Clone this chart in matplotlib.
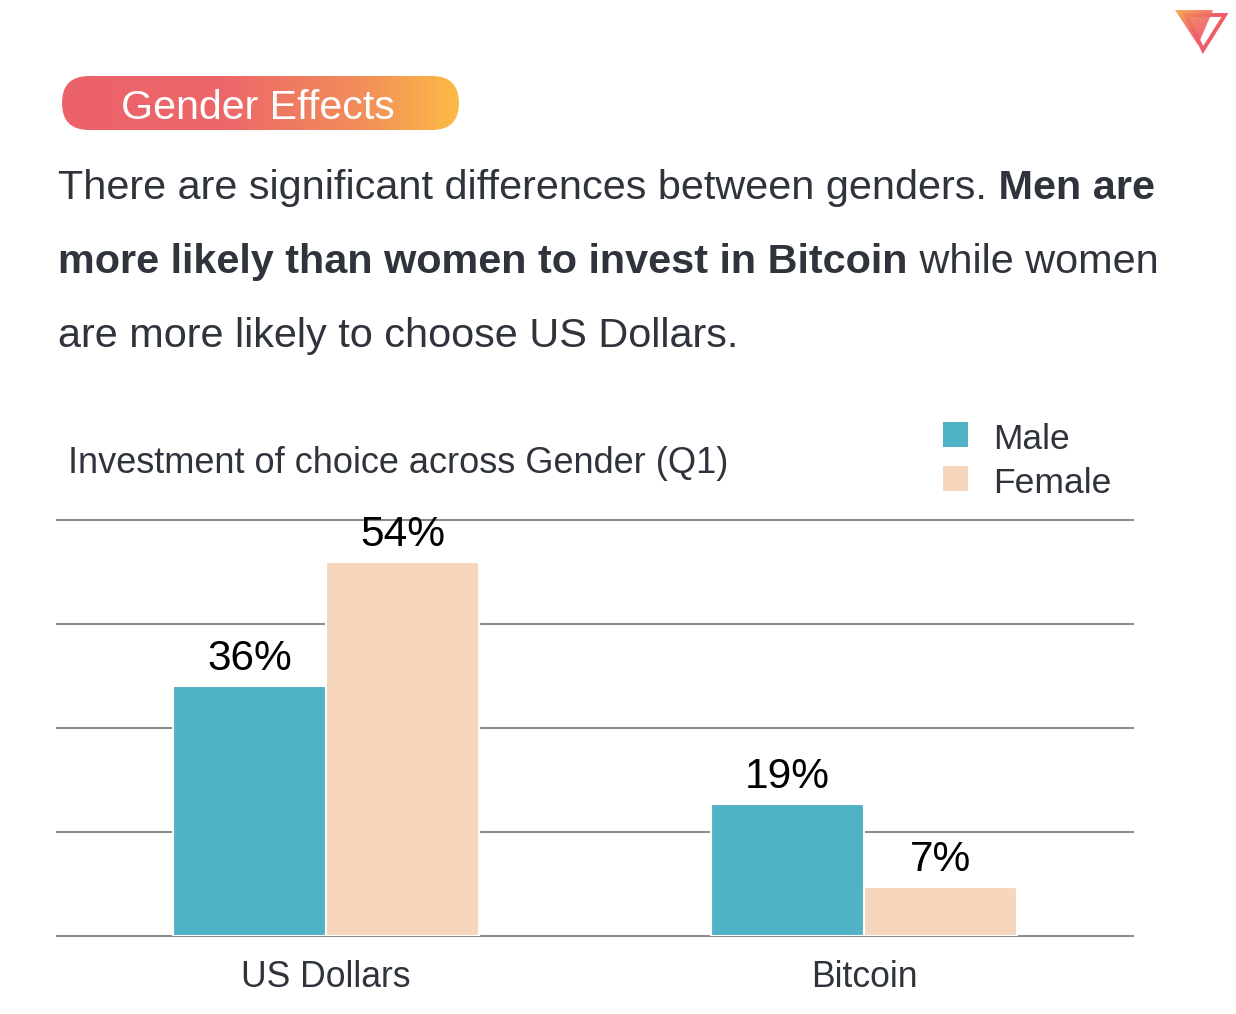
import matplotlib
matplotlib.use('Agg')
import matplotlib.pyplot as plt
import numpy as np
from matplotlib.patches import FancyBboxPatch, Polygon, Rectangle
from matplotlib.colors import LinearSegmentedColormap

# ---------------- data ----------------
categories = ['US Dollars', 'Bitcoin']
series_names = ['Male', 'Female']
male_values = [36, 19]
female_values = [54, 7]
grid_ticks = [0, 15, 30, 45, 60]
series_colors = ['#50b3c5', '#f6d6bd']

badge_text = 'Gender Effects'
chart_title = 'Investment of choice across Gender (Q1)'
paragraph = [
    [("There are significant differences between genders.", 'normal'), (" Men are", 'bold')],
    [("more likely than women to invest in Bitcoin", 'bold'), (" while women", 'normal')],
    [("are more likely to choose US Dollars.", 'normal')],
]

plt.rcParams['font.family'] = ['Liberation Sans', 'DejaVu Sans']
TEXT = '#2f333b'
W, H = 1236, 1014
fig = plt.figure(figsize=(W / 100, H / 100), dpi=100)
fig.patch.set_facecolor('white')

# background / overlay axes in pixel coordinates
bg = fig.add_axes([0, 0, 1, 1])
bg.set_xlim(0, W)
bg.set_ylim(H, 0)
bg.axis('off')

# ---- badge (pill with gradient) ----
pill = FancyBboxPatch((62, 76), 397, 54, boxstyle='round,pad=0,rounding_size=27',
                      facecolor='none', edgecolor='none')
bg.add_patch(pill)
cmap_pill = LinearSegmentedColormap.from_list('pill', [(0, '#eb6369'), (0.4, '#ec666a'),
                                                       (0.75, '#f28d5a'), (1, '#fcbb46')])
grad = np.linspace(0, 1, 256).reshape(1, -1)
im = bg.imshow(grad, extent=(62, 459, 130, 76), cmap=cmap_pill, aspect='auto', zorder=2)
im.set_clip_path(pill)
bg.text(258, 119, badge_text, fontsize=29.6, color='white', ha='center', va='baseline', zorder=3)

# ---- logo ----
triB_pts = [(1186, 15), (1225, 15), (1203, 50)]
bg.add_patch(Polygon(triB_pts, closed=True, facecolor='none', edgecolor='#ef5d68', lw=2.8, zorder=3,
                     joinstyle='miter'))
triA = Polygon([(1175, 10), (1213, 10), (1198, 45)], closed=True, facecolor='none', edgecolor='none')
bg.add_patch(triA)
cmap_logo = LinearSegmentedColormap.from_list('logo', ['#f6a24a', '#f07a5e', '#ee6169', '#ee5f6a'])
gx, gy = np.meshgrid(np.linspace(0, 1, 64), np.linspace(0, 1, 64))
g2 = np.clip(0.55 * gy + 0.45 * gx, 0, 1)
im2 = bg.imshow(g2, extent=(1175, 1213, 45, 10), cmap=cmap_logo, aspect='auto', zorder=4, alpha=0.92)
im2.set_clip_path(triA)

# ---- paragraph with mixed weights ----
PFS = 29.8
baselines = [199, 273, 347]
for parts, yb in zip(paragraph, baselines):
    prev = bg.text(58, yb, parts[0][0], fontsize=PFS, fontweight=parts[0][1], color=TEXT,
                   ha='left', va='baseline')
    for s, w in parts[1:]:
        prev = bg.annotate(s, xy=(1, 0), xycoords=prev, ha='left', va='bottom',
                           fontsize=PFS, fontweight=w, color=TEXT)

# ---- chart title ----
bg.text(68, 473, chart_title, fontsize=26, color=TEXT, ha='left', va='baseline')

# ---- legend ----
for i, (name, col) in enumerate(zip(series_names, series_colors)):
    y0 = 422 + i * 44
    bg.add_patch(Rectangle((943, y0), 25, 25, facecolor=col, edgecolor='none'))
    bg.text(993, y0 + 27, name, fontsize=25.5, color=TEXT, ha='left', va='baseline')

# ---- chart ----
ax = fig.add_axes([57 / W, (H - 936) / H, 1076 / W, 416 / H])
ax.set_xlim(-0.5, 1.5)
ax.set_ylim(grid_ticks[0], grid_ticks[-1])
x = np.arange(len(categories))
bw = 0.285
b1 = ax.bar(x - bw / 2, male_values, bw, color=series_colors[0], edgecolor='white', linewidth=1.5, zorder=3)
b2 = ax.bar(x + bw / 2, female_values, bw, color=series_colors[1], edgecolor='white', linewidth=1.5, zorder=3)
for cont, vals in ((b1, male_values), (b2, female_values)):
    for rect, v in zip(cont, vals):
        ax.annotate(f'{v}%', xy=(rect.get_x() + rect.get_width() / 2, v), xytext=(0, 11.5),
                    textcoords='offset points', ha='center', va='baseline', fontsize=30.5, color='black',
                    zorder=4)

ax.set_yticks(grid_ticks)
ax.yaxis.grid(True, color='#8c8c8c', linewidth=1.5, zorder=0)
for gl in ax.get_ygridlines():
    gl.set_clip_on(False)
ax.set_axisbelow(True)
ax.tick_params(axis='y', length=0, labelleft=False)
ax.set_xticks(x)
ax.set_xticklabels(categories, fontsize=25.6, color=TEXT)
ax.tick_params(axis='x', length=0, pad=17)
for s in ax.spines.values():
    s.set_visible(False)
ax.set_facecolor('none')

fig.savefig('out.png', dpi=100, facecolor='white')
